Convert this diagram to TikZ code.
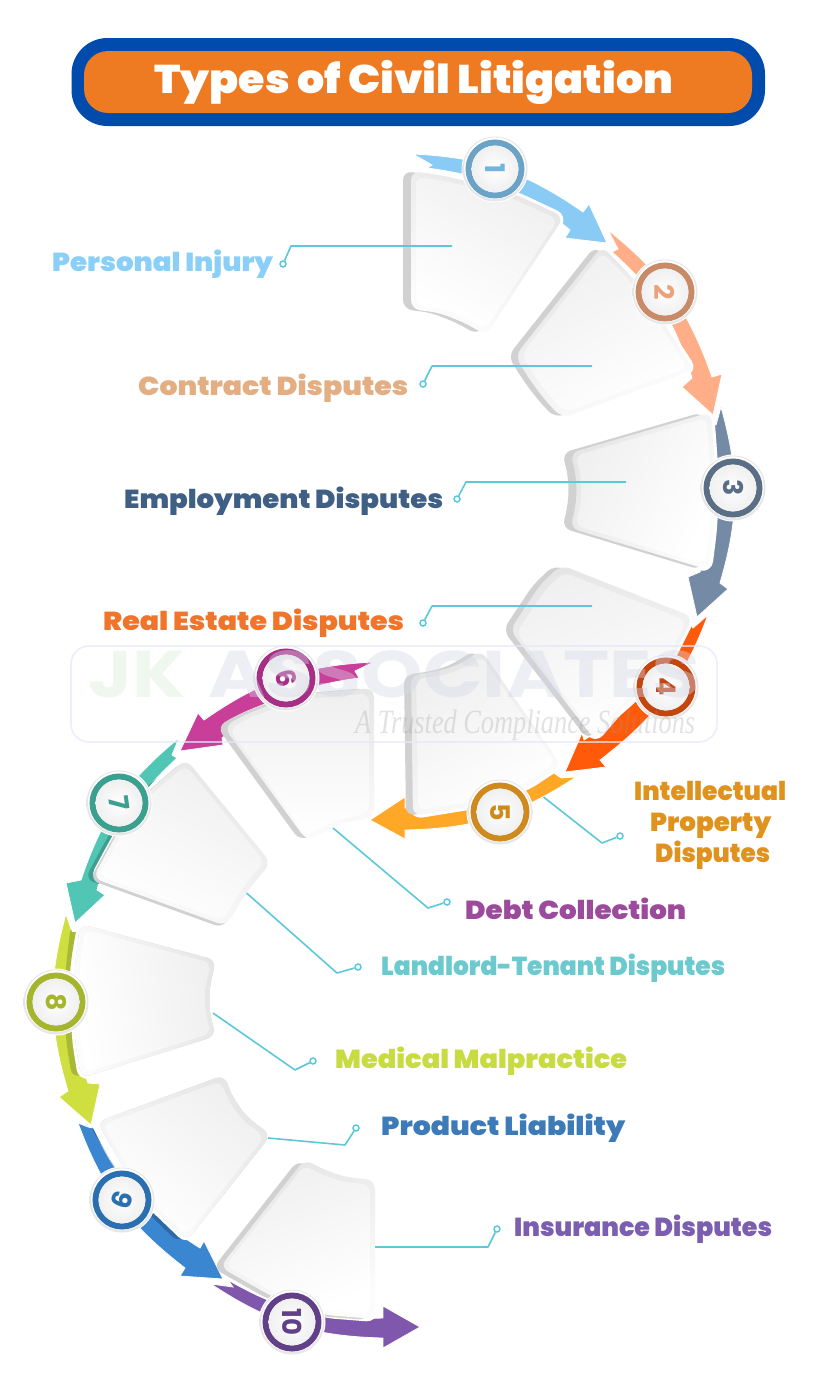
\documentclass[tikz,border=0pt]{standalone}
\usepackage{fontspec}
\usepackage{graphicx}
\setmainfont{Poppins}
\newfontfamily\heavy{Poppins Black}
\newfontfamily\wmfont{Liberation Serif}
\usetikzlibrary{calc}
\definecolor{leadc}{HTML}{5CC8DA}
\definecolor{a1}{HTML}{89CBF5}\definecolor{a2}{HTML}{FFAE87}\definecolor{a3}{HTML}{758BA5}\definecolor{a4}{HTML}{FF5A0A}\definecolor{a5}{HTML}{FFA726}
\definecolor{a6}{HTML}{C93E98}\definecolor{a7}{HTML}{52C6B4}\definecolor{a8}{HTML}{CEDF3F}\definecolor{a9}{HTML}{3A86D0}\definecolor{a10}{HTML}{7F58AD}
\definecolor{r1}{HTML}{6BA3C7}\definecolor{r2}{HTML}{C98A68}\definecolor{r3}{HTML}{5A6E85}\definecolor{r4}{HTML}{C4460F}\definecolor{r5}{HTML}{CE8A1F}
\definecolor{r6}{HTML}{A52F85}\definecolor{r7}{HTML}{3BA08F}\definecolor{r8}{HTML}{A5B52E}\definecolor{r9}{HTML}{2A6FAF}\definecolor{r10}{HTML}{614088}
\definecolor{d1}{HTML}{72B5DC}\definecolor{d2}{HTML}{EBA27C}
\definecolor{s7}{HTML}{3F9E90}\definecolor{s8}{HTML}{A9B936}\definecolor{s9}{HTML}{2C69A5}
\definecolor{bannerblue}{HTML}{014BAD}\definecolor{bannerorange}{HTML}{EE7A22}
\tikzset{
  leader/.style={draw=leadc,line width=1.6pt,line join=round},
  dotnode/.style={circle,draw=leadc,line width=1.5pt,fill=white,inner sep=0pt,minimum size=6pt},
  lab/.style={inner sep=0pt,font=\heavy\fontsize{26}{26}\selectfont,anchor=base west},
  arrowbody/.style={draw=white,line width=0.8pt,line join=miter},
}
\newcommand\arrowL[9]{\fill[#1,arrowbody] (#2) -- (#3) -- (#4) to[bend left=16] (#5) -- (#6) -- (#7) -- (#8) -- (#9) to[bend right=16] (#2) -- cycle;}
\newcommand\arrowR[9]{\fill[#1,arrowbody] (#2) -- (#3) -- (#4) to[bend right=16] (#5) -- (#6) -- (#7) -- (#8) -- (#9) to[bend left=16] (#2) -- cycle;}
\newcommand\tile[4]{%
  \path[draw=white,line width=6pt,line join=round,rounded corners=9pt] #1 -- cycle;
  \begin{scope}[shift={(#3)}]\fill[rounded corners=9pt,fill=black!18] #1 -- cycle;\end{scope}
  \shade[rounded corners=9pt,top color=black!10,bottom color=black!1,shading angle=#4] #1 -- cycle;
  \begin{scope}[scale around={0.93:(#2)}]
    \shade[rounded corners=8pt,top color=black!6,bottom color=white,shading angle=#4] #1 -- cycle;
  \end{scope}}
\newcommand\badge[7]{%
  \fill[white] (#2) circle (33.5);
  \shade[inner color=white,inner color=white,outer color=black!10] (#2) circle (32.5);
  \fill[white] ($(#2)+(0,-0.8)$) circle (30.8);
  \node[circle,draw=#3,line width=6pt,minimum size=53pt,inner sep=0pt] (#1) at (#2) {};
  \shade[inner color=white,outer color=black!6] (#2) circle (23.4);
  \node[rotate=#5,text=#6,font=\bfseries\fontsize{#7}{#7}\selectfont,inner sep=0pt] at (#2) {#4};}
\newcommand\lbl[2]{\resizebox{#1pt}{\height}{#2}}
\def\tA{(411,171) -- (440,175) -- (480,184) -- (517,195) -- (564,217) -- (486,335) -- (465,323) -- (440,313) -- (411,309)}
\def\tB{(602,246) -- (632,277) -- (658,315) -- (694,370) -- (562,418) -- (545,400) -- (530,380) -- (515,356)}
\def\tC{(570,453) -- (711,412) -- (714,450) -- (716,490) -- (714,530) -- (709,570) -- (570,528) -- (575,510) -- (577,490) -- (575,470)}
\def\tD{(561,565) -- (693,617) -- (673,657) -- (648,685) -- (619,712) -- (595,740) -- (510,630) -- (522,612) -- (540,585)}
\def\tE{(411,675) -- (440,671) -- (460,664) -- (481,650) -- (561,765) -- (528,787) -- (475,806) -- (413,816)}
\def\tF{(224,727) -- (240,717) -- (264,707) -- (290,698) -- (315,693) -- (374,688) -- (374,817) -- (342,823) -- (307,841)}
\def\tG{(186,759) -- (271,863) -- (258,878) -- (246,893) -- (226,926) -- (93,878) -- (108,850) -- (122,825) -- (150,790)}
\def\tH{(80,924) -- (216,960) -- (210,985) -- (209,1000) -- (210,1015) -- (216,1036) -- (81,1078) -- (75,1040) -- (74,1000) -- (75,965)}
\def\tI{(224,1075) -- (233,1098) -- (248,1118) -- (271,1135) -- (187,1241) -- (160,1215) -- (128,1175) -- (97,1122)}
\def\tJ{(305,1159) -- (320,1168) -- (345,1177) -- (375,1180) -- (375,1319) -- (325,1315) -- (273,1297) -- (220,1267)}
\def\pG{(179,738) -- (172,755) -- (177,758) to[bend right=16] (97,890) -- (105,895) -- (75,923) -- (66,883) -- (81,880) to[bend left=16] (179,738)}
\def\pH{(66,914) -- (72,932) -- (76,932) to[bend right=16] (88,1083) -- (100,1084) -- (91,1125) -- (59,1097) -- (68,1091) to[bend left=16] (66,914)}
\def\pI{(78,1123) -- (88,1127) -- (93,1128) to[bend right=16] (200,1248) -- (204,1241) -- (223,1279) -- (180,1276) -- (185,1268) to[bend left=16] (78,1123)}
\begin{document}
\begin{tikzpicture}[x=1pt,y=-1pt]
\useasboundingbox (0,0) rectangle (820,1385);
\fill[white] (0,0) rectangle (820,1385);
% banner
\fill[bannerblue,rounded corners=36pt] (71.5,38) rectangle (765,126);
\fill[bannerorange,rounded corners=24pt] (84,51) rectangle (752,113);
\node[lab,text=white,font=\heavy\fontsize{40}{40}\selectfont] (title) at (154,93) {\lbl{519}{Types of Civil Litigation}};
% arrows
\arrowL{a1}{413,154}{432,165}{427,168}{570,230}{565,238}{607,243}{589,204}{583,212}
\arrowL{a2}{608,230}{618,249}{612,252}{692,378}{682,387}{713,415}{722,374}{712,377}
\arrowL{a3}{721,407}{716,425}{711,422}{700,572}{688,577}{697,617}{728,589}{720,583}
\arrowL{a4}{708,615}{693,628}{690,623}{584,740}{582,733}{565,772}{606,767}{600,760}
\arrowL{a5}{576,777}{561,778}{554,773}{405,808}{405,797}{370,820}{405,839}{405,830}
\arrowR{a6}{374,662}{355,671}{359,678}{222,738}{223,745}{180,751}{198,713}{204,720}
\arrowR{a7}{179,738}{172,755}{177,758}{97,890}{105,895}{75,923}{66,883}{81,880}
\arrowR{a8}{66,914}{72,932}{76,932}{88,1083}{100,1084}{91,1125}{59,1097}{68,1091}
\arrowR{a9}{78,1123}{88,1127}{93,1128}{200,1248}{204,1241}{223,1279}{180,1276}{185,1268}
\arrowR{a10}{211,1284}{233,1287}{228,1280}{383,1318}{383,1306}{420,1327}{383,1348}{383,1338}
% shadow bands that the tiles cast on arrows 7, 8, 9
\begin{scope}\clip \pG -- cycle;\begin{scope}[shift={(-8,1)}]\fill[s7,rounded corners=9pt] \tG -- cycle;\end{scope}\end{scope}
\begin{scope}\clip \pH -- cycle;\begin{scope}[shift={(-9,0)}]\fill[s8,rounded corners=9pt] \tH -- cycle;\end{scope}\end{scope}
\begin{scope}\clip \pI -- cycle;\begin{scope}[shift={(-8,2)}]\fill[s9,rounded corners=9pt] \tI -- cycle;\end{scope}\end{scope}
% tiles
\tile{\tA}{480,255}{-8,0}{-30}
\tile{\tB}{605,335}{-7,0}{30}
\tile{\tC}{645,490}{-8,0}{60}
\tile{\tD}{600,670}{-7,0}{20}
\tile{\tE}{485,735}{-7,0}{30}
\tile{\tF}{300,765}{-7,0}{0}
\tile{\tG}{180,845}{-3,2}{-30}
\tile{\tH}{145,1000}{0,0}{-80}
\tile{\tI}{180,1160}{0,0}{-40}
\tile{\tJ}{300,1245}{-7,1}{20}
% badges
\badge{n1}{495,169}{r1}{1}{-90}{d1}{27}
\badge{n2}{665,292}{r2}{2}{-90}{d2}{27}
\badge{n3}{733,488}{r3}{3}{-90}{r3}{27}
\badge{n4}{666,687}{r4}{4}{-90}{r4}{27}
\badge{n5}{500,812}{r5}{5}{-90}{r5}{27}
\badge{n6}{286,678}{r6}{6}{-75}{r6}{27}
\badge{n7}{119,803}{r7}{7}{-82}{r7}{27}
\badge{n8}{56,1002}{r8}{8}{-90}{r8}{27}
\badge{n9}{122,1200}{r9}{9}{-110}{r9}{27}
\badge{n10}{292,1322}{r10}{10}{-90}{r10}{26}
% leaders
\coordinate (s1) at (452,246); \coordinate (k1) at (291,246); \node[dotnode] (e1) at (283,264) {};
\coordinate (s2) at (592,366); \coordinate (k2) at (432,366); \node[dotnode] (e2) at (423,384) {};
\coordinate (s3) at (626,482); \coordinate (k3) at (466,482); \node[dotnode] (e3) at (457,499) {};
\coordinate (s4) at (592,606); \coordinate (k4) at (432,606); \node[dotnode] (e4) at (423,623) {};
\coordinate (s5) at (543.5,797); \coordinate (k5) at (602,843); \node[dotnode] (e5) at (620,836) {};
\coordinate (s6) at (333,828); \coordinate (k6) at (428,908); \node[dotnode] (e6) at (447,902) {};
\coordinate (s7) at (246.5,893); \coordinate (k7) at (337,973); \node[dotnode] (e7) at (358,967) {};
\coordinate (s8) at (213,1013); \coordinate (k8) at (295,1070); \node[dotnode] (e8) at (313,1061) {};
\coordinate (s9) at (268,1138); \coordinate (k9) at (345,1145); \node[dotnode] (e9) at (356,1128) {};
\coordinate (s10) at (375,1247); \coordinate (k10) at (488,1247); \node[dotnode] (e10) at (497,1229) {};
\foreach \i in {1,...,10} {\draw[leader] (s\i) -- (k\i) -- (e\i);}
% labels
\node[lab,text={rgb,255:red,137;green,207;blue,248}] (l1) at (52,271) {\lbl{221}{Personal Injury}};
\node[lab,text={rgb,255:red,226;green,174;blue,130}] (l2) at (138,395) {\lbl{270}{Contract Disputes}};
\node[lab,text={rgb,255:red,63;green,95;blue,133}] (l3) at (124,508) {\lbl{319}{Employment Disputes}};
\node[lab,text={rgb,255:red,240;green,117;blue,42}] (l4) at (103,630) {\lbl{301}{Real Estate Disputes}};
\node[lab,text={rgb,255:red,224;green,146;blue,31}] (l5a) at (634,800) {\lbl{152}{Intellectual}};
\node[lab,text={rgb,255:red,224;green,146;blue,31}] (l5b) at (650,831) {\lbl{121}{Property}};
\node[lab,text={rgb,255:red,224;green,146;blue,31}] (l5c) at (655,862) {\lbl{115}{Disputes}};
\node[lab,text={rgb,255:red,156;green,74;blue,156}] (l6) at (465,919) {\lbl{221}{Debt Collection}};
\node[lab,text={rgb,255:red,108;green,201;blue,206}] (l7) at (381,975) {\lbl{344}{Landlord-Tenant Disputes}};
\node[lab,text={rgb,255:red,200;green,219;blue,65}] (l8) at (335,1068) {\lbl{292}{Medical Malpractice}};
\node[lab,text={rgb,255:red,60;green,123;blue,184}] (l9) at (381,1135) {\lbl{244}{Product Liability}};
\node[lab,text={rgb,255:red,124;green,94;blue,176}] (l10) at (514,1236) {\lbl{258}{Insurance Disputes}};
% watermark
\draw[draw={rgb,255:red,230;green,230;blue,250},opacity=0.7,line width=1.6pt,rounded corners=18pt] (71,646) rectangle (717,742);
\node[lab,opacity=0.5,text={rgb,255:red,226;green,240;blue,222},font=\bfseries\fontsize{66}{66}\selectfont] (wm1) at (88,697) {\lbl{97}{JK}};
\node[lab,opacity=0.4,text={rgb,255:red,214;green,214;blue,232},font=\bfseries\fontsize{66}{66}\selectfont] (wm2) at (208,697) {\lbl{492}{ASSOCIATES}};
\node[lab,opacity=0.28,text=black!40,font=\wmfont\itshape\fontsize{34}{34}\selectfont] (wm3) at (355,733) {\lbl{340}{A Trusted Compliance Solutions}};
\end{tikzpicture}
\end{document}
